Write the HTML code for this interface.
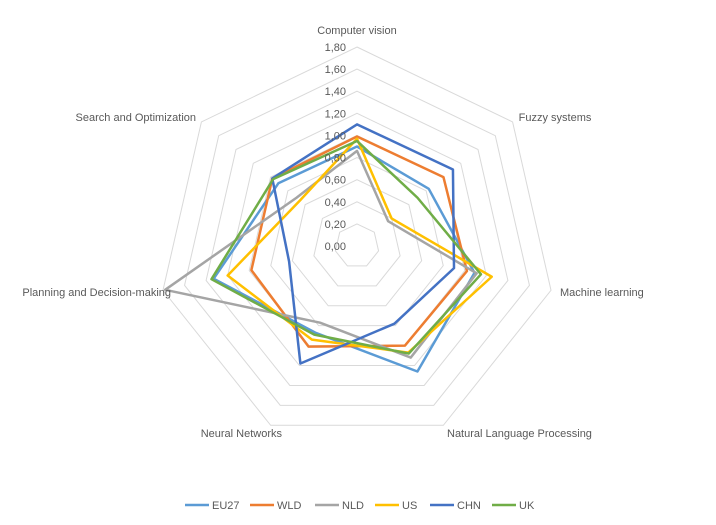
<!DOCTYPE html>
<html><head><meta charset="utf-8"><style>
body{margin:0;background:#fff;}
svg text{font-family:"Liberation Sans",Arial,sans-serif;font-size:11px;fill:#595959;}
</style></head><body>
<svg id="chart" width="716" height="520" viewBox="0 0 716 520" xmlns="http://www.w3.org/2000/svg">
<rect width="716" height="520" fill="#fff"/>
<g id="grid"></g><g id="series"></g><g id="labels"></g><g id="legend"></g>
</svg>
<script>
const categories=["Computer vision","Fuzzy systems","Machine learning","Natural Language Processing","Neural Networks","Planning and Decision-making","Search and Optimization"];
const seriesNames=["EU27","WLD","NLD","US","CHN","UK"];
const seriesColors=["#5B9BD5","#ED7D31","#A5A5A5","#FFC000","#4472C4","#70AD47"];
const EU27=[0.90,0.83,1.09,1.26,0.87,1.33,0.91];
const WLD=[0.99,1.00,1.02,1.00,1.01,0.98,0.98];
const NLD=[0.86,0.36,1.11,1.12,0.77,1.78,0.70];
const US=[0.97,0.40,1.25,1.07,0.94,1.20,0.66];
const CHN=[1.10,1.11,0.90,0.78,1.18,0.63,0.98];
const UK=[0.95,0.70,1.15,1.08,0.89,1.35,0.97];
const tickLabels=["0,00","0,20","0,40","0,60","0,80","1,00","1,20","1,40","1,60","1,80"];
const tickValues=[0,0.2,0.4,0.6,0.8,1.0,1.2,1.4,1.6,1.8];
const allSeries=[EU27,WLD,NLD,US,CHN,UK];
const NS="http://www.w3.org/2000/svg";
const cx=357,cy=246,R=199,maxV=1.8,N=categories.length;
function pt(i,v){const a=i*2*Math.PI/N;const r=v/maxV*R;return [cx+r*Math.sin(a),cy-r*Math.cos(a)];}
function mk(t,attrs,parent){const e=document.createElementNS(NS,t);for(const k in attrs)e.setAttribute(k,attrs[k]);parent.appendChild(e);return e;}
const grid=document.getElementById('grid');
tickValues.forEach((tv,ti)=>{if(tv===0)return;
 const p=categories.map((c,i)=>pt(i,tv).join(',')).join(' ');
 const e=mk('polygon',{points:p,fill:'none',stroke:'#d9d9d9','stroke-width':1},grid);
 
 
});
const labels=document.getElementById('labels');
tickValues.forEach((tv,ti)=>{const p=pt(0,tv);
 const t=mk('text',{x:346,y:p[1]+4,'text-anchor':'end'},labels);t.textContent=tickLabels[ti];
 
 
});
const catPos=[[357,34,'middle'],[555,121,'middle'],[560,296,'start'],[447,437,'start'],[282,437,'end'],[171,296,'end'],[196,121,'end']];
categories.forEach((c,i)=>{const t=mk('text',{x:catPos[i][0],y:catPos[i][1],'text-anchor':catPos[i][2]},labels);t.textContent=c;
 
 
});
const sg=document.getElementById('series');
allSeries.forEach((s,si)=>{const p=s.map((v,i)=>pt(i,v).join(',')).join(' ');
 const e=mk('polygon',{points:p,fill:'none',stroke:seriesColors[si],'stroke-width':2.5,'stroke-linejoin':'round'},sg);
 
 
});
const lg=document.getElementById('legend');
const lx=[185,250,315,375,430,492];
seriesNames.forEach((n,i)=>{const g=mk('g',{},lg);
 
 
 mk('line',{x1:lx[i],y1:505,x2:lx[i]+24,y2:505,stroke:seriesColors[i],'stroke-width':2.5},g);
 const t=mk('text',{x:lx[i]+27,y:509},g);t.textContent=n;
});
</script>
</body></html>
